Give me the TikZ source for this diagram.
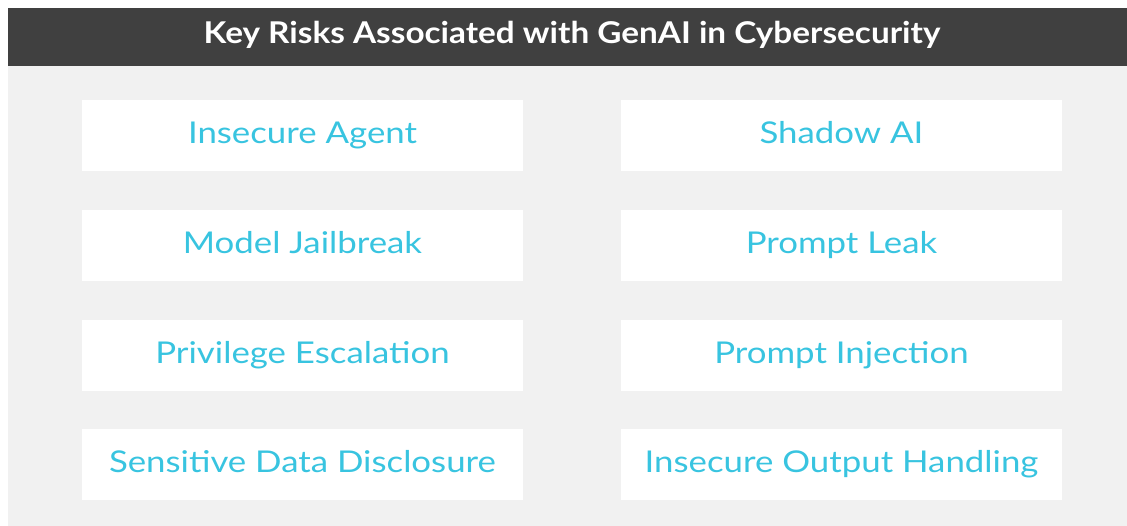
\documentclass[tikz,border=0pt]{standalone}
\usepackage{fontspec}
\setmainfont{Lato}[FakeStretch=1.16]
\newfontfamily\titlefont{Lato}[FakeStretch=1.11]
\definecolor{titlebg}{HTML}{404040}
\definecolor{panelbg}{HTML}{F1F1F1}
\definecolor{risktext}{HTML}{38C4E0}
\begin{document}
\begin{tikzpicture}[x=1pt,y=-1pt,
  riskbox/.style={fill=white,draw=none,minimum width=441pt,minimum height=71pt,inner sep=0pt,anchor=north west},
  risklabel/.style={text=risktext,font=\fontsize{30}{34}\selectfont,inner sep=0pt,anchor=base},
  titlelabel/.style={text=white,font=\titlefont\fontsize{30}{34}\selectfont\bfseries,inner sep=0pt,anchor=base}]
\useasboundingbox (0,0) rectangle (1127,526);
\fill[white] (0,0) rectangle (1127,526);
\fill[panelbg] (8,8) rectangle (1127,526);
\fill[titlebg] (8,8) rectangle (1127,66);
\node[titlelabel] (title) at (572,43.5) {Key Risks Associated with GenAI in Cybersecurity};
\node[riskbox] (b1) at (82,100) {};
\node[riskbox] (b2) at (82,210) {};
\node[riskbox] (b3) at (82,320) {};
\node[riskbox] (b4) at (82,429) {};
\node[riskbox] (b5) at (621,100) {};
\node[riskbox] (b6) at (621,210) {};
\node[riskbox] (b7) at (621,320) {};
\node[riskbox] (b8) at (621,429) {};
\node[risklabel] (t1) at (302.5,143.5) {Insecure Agent};
\node[risklabel] (t2) at (302.5,253.5) {Model Jailbreak};
\node[risklabel] (t3) at (302.5,363.5) {Privilege Escalation};
\node[risklabel] (t4) at (302.5,472.5) {Sensitive Data Disclosure};
\node[risklabel] (t5) at (841.5,143.5) {Shadow AI};
\node[risklabel] (t6) at (841.5,253.5) {Prompt Leak};
\node[risklabel] (t7) at (841.5,363.5) {Prompt Injection};
\node[risklabel] (t8) at (841.5,472.5) {Insecure Output Handling};
\end{tikzpicture}
\end{document}
